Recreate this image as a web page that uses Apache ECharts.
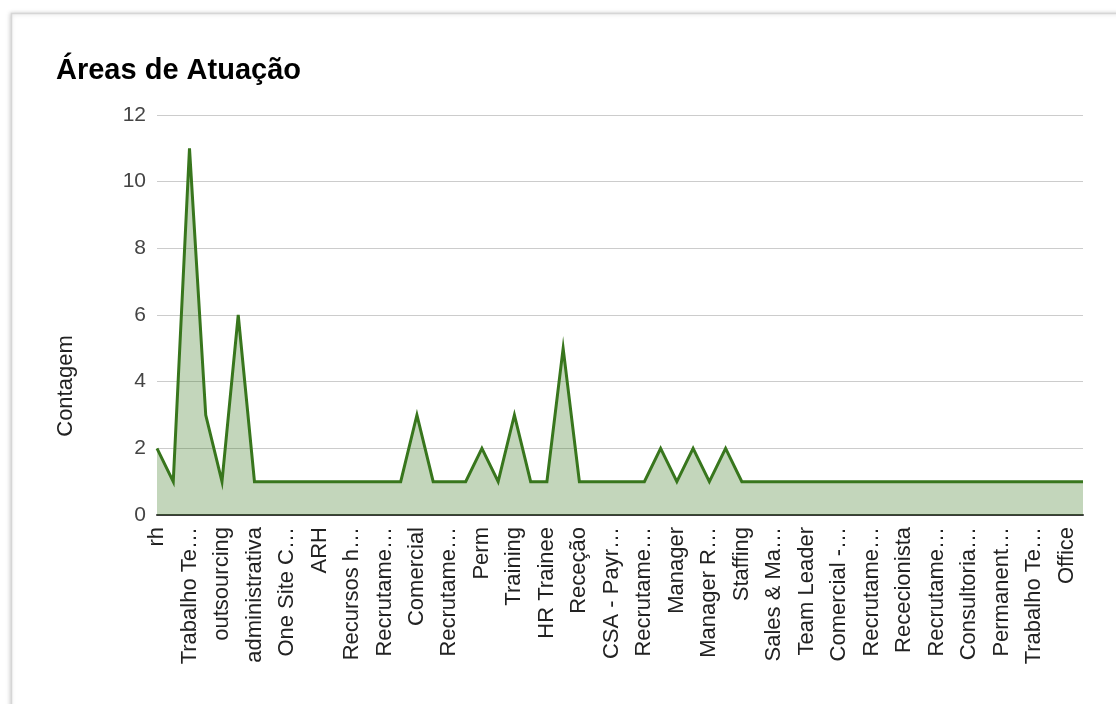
<!DOCTYPE html>
<html>
<head>
<meta charset="utf-8">
<script src="https://cdn.jsdelivr.net/npm/echarts@6/dist/echarts.min.js"></script>
<style>
  html, body { margin: 0; padding: 0; background: #ffffff; }
  #chart { width: 1116px; height: 704px; }
</style>
</head>
<body>
<div id="chart"></div>
<script>
// Áreas de atuação e respetiva contagem
const categories = [
  'rh', 'Seleção', 'Trabalho Temporário', 'Recrutamento', 'outsourcing',
  'Recrutamento e Seleção', 'administrativa', 'Payroll', 'One Site Coordinator', 'Gestão de Talento',
  'ARH', 'Formação', 'Recursos humanos', 'Executive Search', 'Recrutamento Especializado',
  'Account Manager', 'Comercial', 'Headhunting', 'Recrutamento IT', 'Consultor',
  'Perm', 'Onboarding', 'Training', 'Administração de Pessoal', 'HR Trainee',
  'Talent Acquisition', 'Receção', 'Técnico de RH', 'CSA - Payroll Services', 'Business Partner',
  'Recrutamento Massivo', 'Gestão Administrativa', 'Manager', 'Temp', 'Manager Recrutamento',
  'Sourcing', 'Staffing', 'Processamento Salarial', 'Sales & Marketing', 'Coordenação',
  'Team Leader', 'Atendimento', 'Comercial - Vendas', 'Logística', 'Recrutamento Internacional',
  'Assistente', 'Rececionista', 'Gestão de Equipas', 'Recrutamento Executivo', 'Employer Branding',
  'Consultorias de RH', 'Operações', 'Permanente e Temporário', 'Secretariado', 'Trabalho Temporário e Permanente',
  'Contabilidade', 'Office', 'Marketing'
];

const contagem = [
  2, 1, 11, 3, 1, 6, 1, 1, 1, 1,
  1, 1, 1, 1, 1, 1, 3, 1, 1, 1,
  2, 1, 3, 1, 1, 5, 1, 1, 1, 1,
  1, 2, 1, 2, 1, 2, 1, 1, 1, 1,
  1, 1, 1, 1, 1, 1, 1, 1, 1, 1,
  1, 1, 1, 1, 1, 1, 1, 1
];

const yTicks = { min: 0, max: 12, step: 2 };

const chart = echarts.init(document.getElementById('chart'), null, { renderer: 'canvas' });

chart.setOption({
  backgroundColor: '#ffffff',
  animation: false,
  textStyle: { fontFamily: 'Liberation Sans, Arial, sans-serif' },
  graphic: [{
    type: 'rect',
    z: -10,
    silent: true,
    shape: { x: 11.5, y: 13.5, width: 1200, height: 800 },
    style: {
      fill: '#ffffff',
      stroke: '#d6d6d6',
      lineWidth: 1.5,
      shadowBlur: 4,
      shadowColor: 'rgba(0,0,0,0.18)',
      shadowOffsetX: -1,
      shadowOffsetY: 0
    }
  }],
  title: {
    text: 'Áreas de Atuação',
    left: 51,
    top: 51,
    textStyle: {
      fontFamily: 'Liberation Sans, Arial, sans-serif',
      fontSize: 29,
      fontWeight: 'bold',
      color: '#000000'
    }
  },
  grid: { left: 157, right: 33, top: 115, bottom: 189, containLabel: false },
  xAxis: {
    type: 'category',
    data: categories,
    boundaryGap: false,
    axisLine: { show: true, lineStyle: { color: '#3a3a3a', width: 2 } },
    axisTick: { show: false },
    splitLine: { show: false },
    axisLabel: {
      interval: 1,
      rotate: 90,
      margin: 12,
      fontSize: 22,
      color: '#222222',
      fontFamily: 'Liberation Sans, Arial, sans-serif',
      width: 141,
      overflow: 'truncate',
      ellipsis: '…'
    }
  },
  yAxis: {
    type: 'value',
    min: yTicks.min,
    max: yTicks.max,
    interval: yTicks.step,
    name: 'Contagem',
    nameLocation: 'middle',
    nameGap: 80,
    nameRotate: 90,
    nameTextStyle: {
      fontSize: 22,
      color: '#222222',
      fontFamily: 'Liberation Sans, Arial, sans-serif',
      padding: [0, 142, 0, 0]
    },
    axisLine: { show: false },
    axisTick: { show: false },
    axisLabel: {
      margin: 11,
      fontSize: 21,
      color: '#444444',
      fontFamily: 'Liberation Sans, Arial, sans-serif'
    },
    splitLine: { lineStyle: { color: '#cccccc', width: 1 } }
  },
  series: [{
    type: 'line',
    data: contagem,
    showSymbol: false,
    symbol: 'none',
    lineStyle: { color: '#38761d', width: 3, join: 'miter' },
    itemStyle: { color: '#38761d' },
    areaStyle: { color: '#38761d', opacity: 0.3 },
    z: 3
  }]
});
</script>
</body>
</html>
